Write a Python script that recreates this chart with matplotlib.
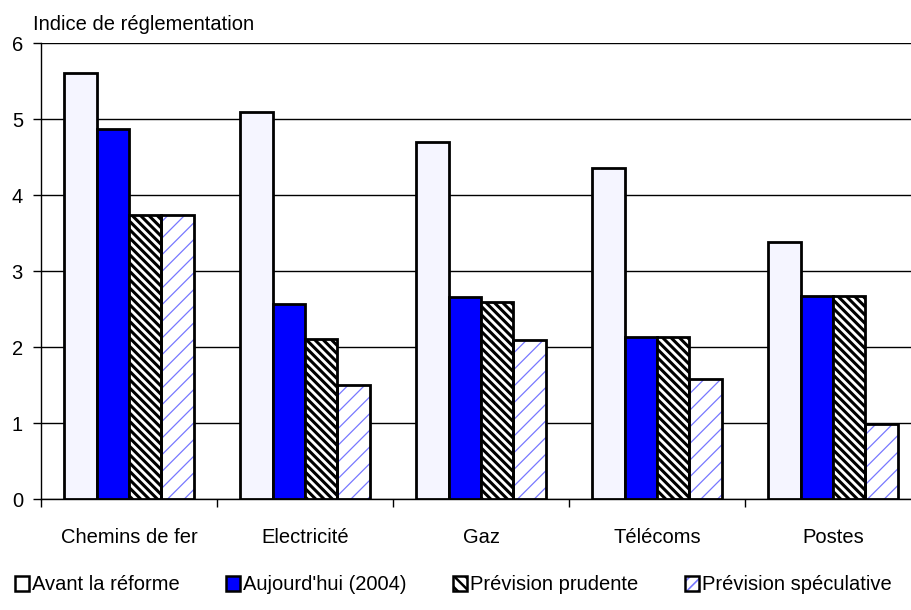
import matplotlib
matplotlib.use("Agg")
import matplotlib.pyplot as plt
import numpy as np
from matplotlib.patches import Patch, Rectangle
from matplotlib.legend_handler import HandlerBase

plt.rcParams['font.family'] = ['Liberation Sans', 'DejaVu Sans']

categories = ["Chemins de fer", "Electricité", "Gaz", "Télécoms", "Postes"]
series_names = ["Avant la réforme", "Aujourd'hui (2004)",
                "Prévision prudente", "Prévision spéculative"]
avant = [5.61, 5.09, 4.70, 4.36, 3.39]
aujourdhui = [4.87, 2.57, 2.66, 2.13, 2.68]
prudente = [3.74, 2.11, 2.59, 2.13, 2.68]
speculative = [3.74, 1.50, 2.10, 1.58, 0.99]
yticks = [0, 1, 2, 3, 4, 5, 6]
ylabel = "Indice de réglementation"

FS = 14.5
W, H = 912, 610
fig = plt.figure(figsize=(W / 100, H / 100), dpi=100)
# axes spans x = 41..921 px (right side runs past the canvas edge)
ax = fig.add_axes([41 / W, (H - 499.3) / H, 880 / W, 456 / H])

x = np.arange(len(categories))
bw = 0.184
offsets = (np.arange(4) - 1.5) * bw
edge_lw = 2.0

ax.set_ylim(0, 6)
ax.set_xlim(-0.5, len(categories) - 0.5)
ax.set_yticks(yticks)
ax.yaxis.grid(True, color='black', linewidth=1.0)
ax.set_axisbelow(True)

PALE = '#F5F5FF'
BLUE = '#0000FF'
LIGHT_HATCH = '#7777FF'
HATCH_DARK = '\\' * 4
HATCH_LIGHT = '//'

ax.bar(x + offsets[0], avant, bw, color=PALE, edgecolor='black',
       linewidth=edge_lw, zorder=3)
ax.bar(x + offsets[1], aujourdhui, bw, color=BLUE, edgecolor='black',
       linewidth=edge_lw, zorder=3)


def hatched(ax, xs, vals, hatch, hcolor, hlw):
    plt.rcParams['hatch.linewidth'] = hlw
    bars = ax.bar(xs, vals, bw, color='white', edgecolor=hcolor,
                  linewidth=0, hatch=hatch, zorder=3)
    for b in bars:
        if hasattr(b, 'set_hatch_linewidth'):
            b.set_hatch_linewidth(hlw)
    ax.bar(xs, vals, bw, fill=False, edgecolor='black',
           linewidth=edge_lw, zorder=4)


hatched(ax, x + offsets[2], prudente, HATCH_DARK, 'black', 2.2)
hatched(ax, x + offsets[3], speculative, HATCH_LIGHT, LIGHT_HATCH, 0.9)

for s in ['top', 'right']:
    ax.spines[s].set_visible(False)
ax.spines['left'].set_linewidth(1.0)
ax.spines['bottom'].set_linewidth(1.0)

ax.tick_params(axis='y', length=6, width=1, pad=7, labelsize=FS, direction='out')
ax.set_xticks(x)
ax.set_xticklabels(categories)
ax.tick_params(axis='x', which='major', length=0, pad=21, labelsize=FS)
ax.set_xticks(np.arange(len(categories) + 1) - 0.5, minor=True)
ax.tick_params(axis='x', which='minor', length=6, width=1, direction='out')

fig.text(33 / W, 1 - 25 / H, ylabel, fontsize=FS, va='center', ha='left')


class HatchBox(HandlerBase):
    def __init__(self, hatch, hcolor, hlw):
        super().__init__()
        self.hatch, self.hcolor, self.hlw = hatch, hcolor, hlw

    def create_artists(self, legend, orig_handle, xdescent, ydescent,
                       width, height, fontsize, trans):
        plt.rcParams['hatch.linewidth'] = self.hlw
        r1 = Rectangle((-xdescent, -ydescent), width, height,
                       facecolor='white', edgecolor=self.hcolor, linewidth=0,
                       hatch=self.hatch, transform=trans)
        r2 = Rectangle((-xdescent, -ydescent), width, height, fill=False,
                       edgecolor='black', linewidth=1.8, transform=trans)
        return [r1, r2]


h1 = Patch(facecolor='white', edgecolor='black', linewidth=1.8)
h2 = Patch(facecolor=BLUE, edgecolor='black', linewidth=1.8)
h3 = Patch(facecolor='white', edgecolor='black')
h4 = Patch(facecolor='white', edgecolor='black')
fig.legend([h1, h2, h3, h4], series_names, ncol=4, frameon=False,
           loc='center', bbox_to_anchor=(0.497, 1 - 585 / H),
           handler_map={h3: HatchBox('\\\\\\', 'black', 1.8),
                        h4: HatchBox('///', LIGHT_HATCH, 1.2)},
           handlelength=0.7, handleheight=0.7, handletextpad=0.15,
           columnspacing=2.3, fontsize=FS, borderaxespad=0)

fig.savefig('out.png', dpi=100)
